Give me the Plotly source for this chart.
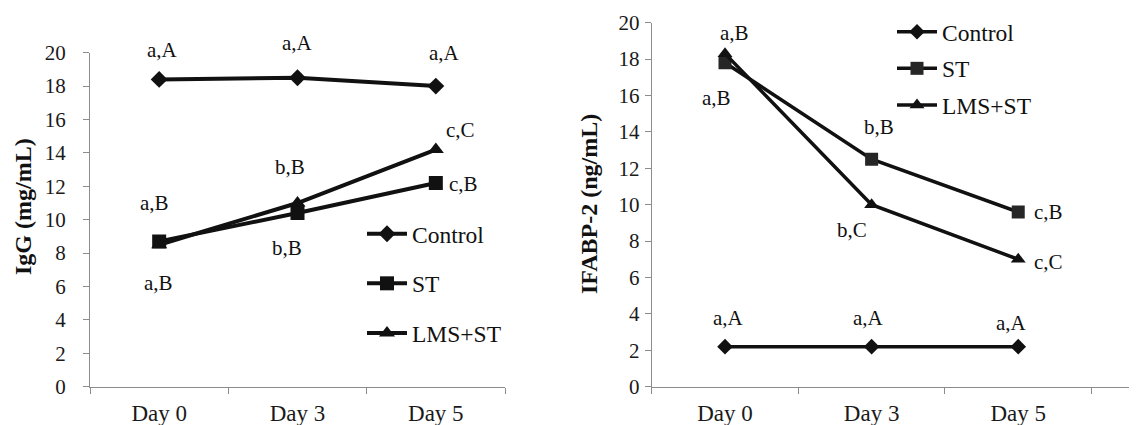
import plotly.graph_objects as go

days = ["Day 0", "Day 3", "Day 5"]
series_names = ["Control", "ST", "LMS+ST"]

# Left panel: IgG (mg/mL)
igg_control = [18.4, 18.5, 18.0]
igg_st = [8.7, 10.4, 12.2]
igg_lms_st = [8.5, 11.0, 14.2]

# Right panel: IFABP-2 (ng/mL)
ifabp_control = [2.2, 2.2, 2.2]
ifabp_st = [17.8, 12.5, 9.6]
ifabp_lms_st = [18.3, 10.0, 7.0]

y_ticks = [0, 2, 4, 6, 8, 10, 12, 14, 16, 18, 20]

# Significance labels: text, category, value
igg_labels_text = ["a,A", "a,A", "a,A", "c,C", "b,B", "c,B", "a,B", "b,B", "a,B"]
igg_labels_day = ["Day 0", "Day 3", "Day 5", "Day 5", "Day 3", "Day 5", "Day 0", "Day 3", "Day 0"]
igg_labels_val = [20.16, 20.56, 19.96, 15.37, 13.17, 12.12, 10.98, 8.29, 6.19]
igg_labels_dx = [3, 0, 9, 25, -8, 28, -5, -11, -1]

ifabp_labels_text = ["a,B", "a,B", "b,B", "b,C", "c,B", "c,C", "a,A", "a,A", "a,A"]
ifabp_labels_day = ["Day 0", "Day 0", "Day 3", "Day 3", "Day 5", "Day 5", "Day 0", "Day 3", "Day 5"]
ifabp_labels_val = [19.42, 15.85, 14.29, 8.61, 9.58, 6.87, 3.76, 3.76, 3.48]
ifabp_labels_dx = [9, -9, 7, -20, 30, 30, 3, -3, -7]

FONT = "Liberation Serif, Tinos, Times New Roman, serif"
LINE = "#111111"
# page body has an 8px margin: figure fills the rest of the 1137x425 window
W, H = 1129, 417
PLOT_BOTTOM = 378.7
L_TOP, R_TOP = 44.7, 14.7
Y_MAX = 20


def px_x(p):
    return p / W


def px_y(p):
    return 1 - p / H


fig = go.Figure()

symbols = ["diamond", "square", "triangle-up"]

for name, vals, sym, sz in zip(series_names, [igg_control, igg_st, igg_lms_st], symbols, [13, 14, 14]):
    fig.add_trace(go.Scatter(
        x=days, y=vals, name=name, mode="lines+markers",
        line=dict(color=LINE, width=4),
        marker=dict(symbol=sym, size=sz, color="#111111"),
        xaxis="x", yaxis="y", legend="legend", legendgroup="L" + name,
    ))

r_marker_colors = ["#111111", "#262626", "#111111"]
for name, vals, sym, sz, mc in zip(series_names, [ifabp_control, ifabp_st, ifabp_lms_st], symbols, [12, 13, 13], r_marker_colors):
    fig.add_trace(go.Scatter(
        x=days, y=vals, name=name, mode="lines+markers",
        line=dict(color=LINE, width=3.5),
        marker=dict(symbol=sym, size=sz, color=mc),
        xaxis="x2", yaxis="y2", legend="legend2", legendgroup="R" + name,
    ))


def label_annotations(texts, cats, vals, dxs, xref, yref, px_per_unit):
    out = []
    for t, d, v, dx in zip(texts, cats, vals, dxs):
        yv = min(v, Y_MAX)
        out.append(dict(text=t, x=d, y=yv, xref=xref, yref=yref, xshift=dx,
                        yshift=(v - yv) * px_per_unit,
                        showarrow=False, font=dict(family=FONT, size=21, color="#111")))
    return out


annotations = []
annotations += label_annotations(igg_labels_text, igg_labels_day, igg_labels_val, igg_labels_dx,
                                 "x", "y", (PLOT_BOTTOM - L_TOP) / Y_MAX)
annotations += label_annotations(ifabp_labels_text, ifabp_labels_day, ifabp_labels_val, ifabp_labels_dx,
                                 "x2", "y2", (PLOT_BOTTOM - R_TOP) / Y_MAX)

# axis titles
annotations.append(dict(text="<b>IgG (mg/mL)</b>", x=px_x(15), y=px_y(199), xref="paper", yref="paper",
                        xanchor="center", yanchor="middle",
                        textangle=-90, showarrow=False, font=dict(family=FONT, size=24, color="#111")))
annotations.append(dict(text="<b>IFABP-2 (ng/mL)</b>", x=px_x(581), y=px_y(196), xref="paper", yref="paper",
                        xanchor="center", yanchor="middle",
                        textangle=-90, showarrow=False, font=dict(family=FONT, size=24, color="#111")))

axis_common = dict(showgrid=False, zeroline=False, showline=True, linecolor="#8c8c8c", linewidth=1,
                   ticks="outside", ticklen=6, tickcolor="#8c8c8c", tickwidth=1, automargin=False)
x_tickfont = dict(family=FONT, size=23, color="#1a1a1a")
y_tickfont = dict(family=FONT, size=21, color="#1a1a1a")

fig.update_layout(
    width=W, height=H,
    margin=dict(l=0, r=0, t=0, b=0),
    paper_bgcolor="white", plot_bgcolor="white",
    font=dict(family=FONT, size=21, color="#111"),
    xaxis=dict(domain=[px_x(82), px_x(497)], anchor="y", type="category", range=[-0.5, 2.5],
               tickson="boundaries", ticklabelstandoff=6, tickfont=x_tickfont, **axis_common),
    yaxis=dict(domain=[px_y(PLOT_BOTTOM), px_y(L_TOP)], anchor="x", range=[0, Y_MAX], tickvals=y_ticks,
               ticklabelstandoff=13, tickfont=y_tickfont, **axis_common),
    xaxis2=dict(domain=[px_x(643.7), 1.0], anchor="y2", type="category", range=[-0.5, 2.81],
                tickson="boundaries", ticklabelstandoff=6, tickfont=x_tickfont, **axis_common),
    yaxis2=dict(domain=[px_y(PLOT_BOTTOM), px_y(R_TOP)], anchor="x2", range=[0, Y_MAX], tickvals=y_ticks,
                ticklabelstandoff=1, tickfont=y_tickfont, **axis_common),
    legend=dict(x=px_x(354), y=px_y(204), xanchor="left", yanchor="top", bgcolor="rgba(0,0,0,0)",
                font=dict(family=FONT, size=23.5, color="#111"), tracegroupgap=16, itemwidth=40,
                traceorder="grouped"),
    legend2=dict(x=px_x(884), y=px_y(2), xanchor="left", yanchor="top", bgcolor="rgba(0,0,0,0)",
                 font=dict(family=FONT, size=23.5, color="#111"), tracegroupgap=3, itemwidth=40,
                 traceorder="grouped"),
    annotations=annotations,
    showlegend=True,
)

fig.write_html("out.html")
